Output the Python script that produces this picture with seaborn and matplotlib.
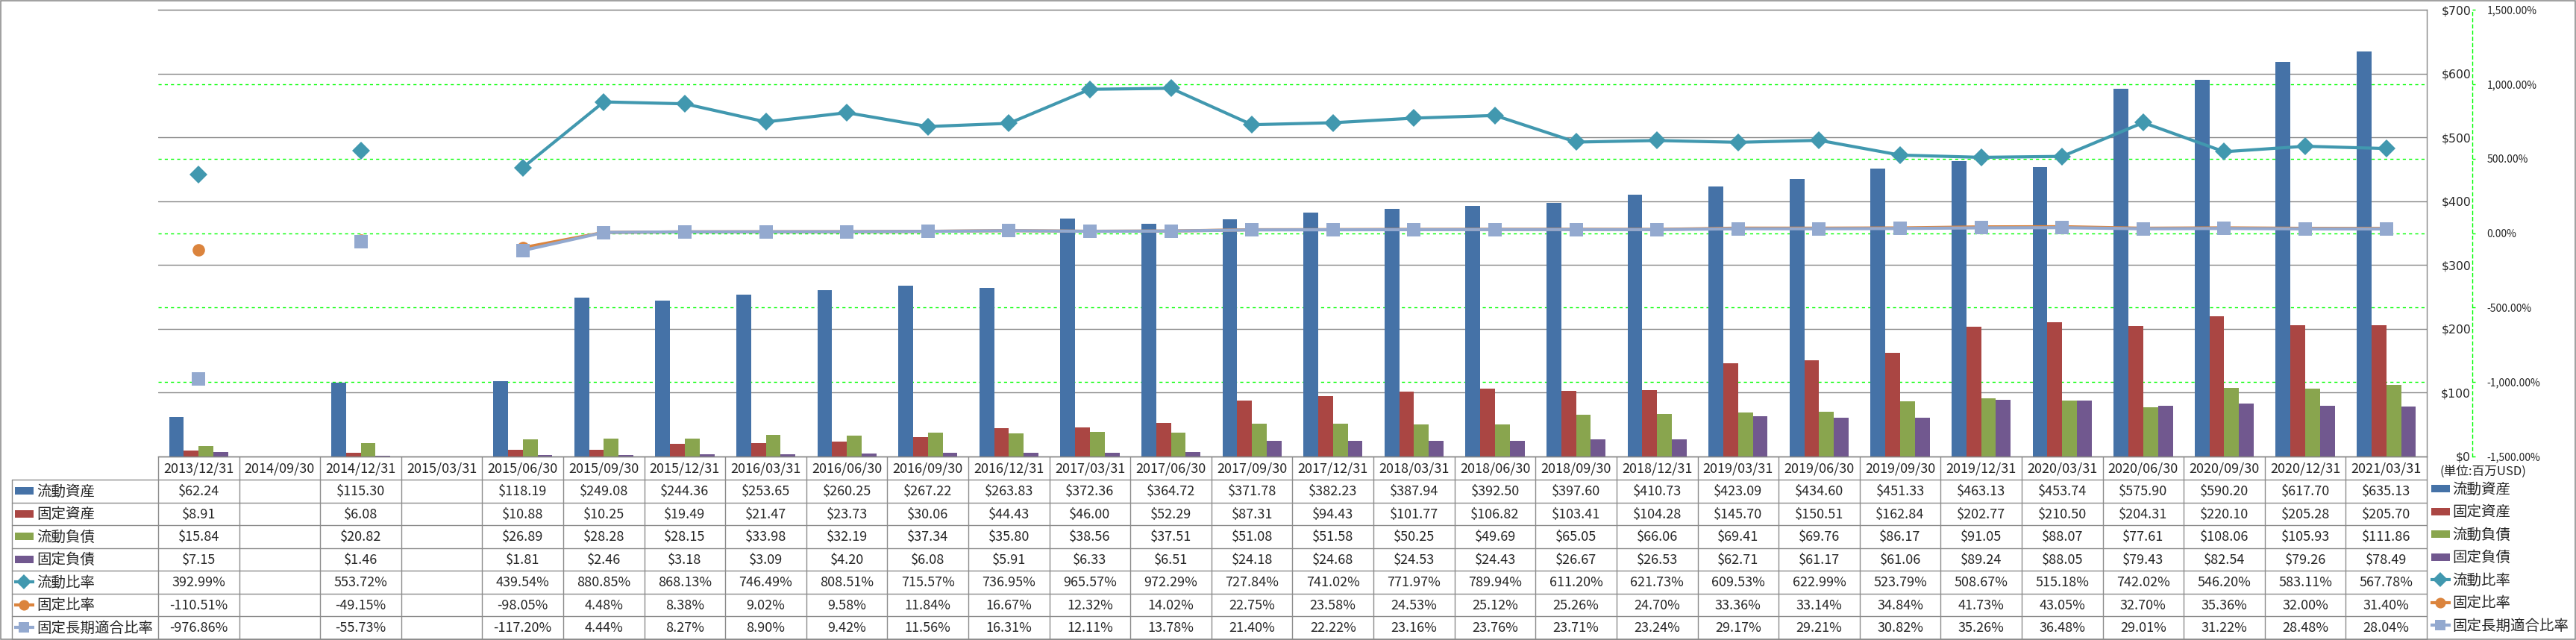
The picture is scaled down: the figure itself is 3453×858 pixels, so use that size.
import numpy as np
import pandas as pd
import matplotlib
matplotlib.use("Agg")
import matplotlib.pyplot as plt
import seaborn as sns
from matplotlib.ticker import FixedLocator
from matplotlib.patches import Rectangle

# ---------------- data ----------------
dates = ["2013/12/31", "2014/09/30", "2014/12/31", "2015/03/31", "2015/06/30", "2015/09/30",
         "2015/12/31", "2016/03/31", "2016/06/30", "2016/09/30", "2016/12/31", "2017/03/31",
         "2017/06/30", "2017/09/30", "2017/12/31", "2018/03/31", "2018/06/30", "2018/09/30",
         "2018/12/31", "2019/03/31", "2019/06/30", "2019/09/30", "2019/12/31", "2020/03/31",
         "2020/06/30", "2020/09/30", "2020/12/31", "2021/03/31"]
nan = np.nan
current_assets = [62.24, nan, 115.30, nan, 118.19, 249.08, 244.36, 253.65, 260.25, 267.22, 263.83,
                  372.36, 364.72, 371.78, 382.23, 387.94, 392.50, 397.60, 410.73, 423.09, 434.60,
                  451.33, 463.13, 453.74, 575.90, 590.20, 617.70, 635.13]
fixed_assets = [8.91, nan, 6.08, nan, 10.88, 10.25, 19.49, 21.47, 23.73, 30.06, 44.43, 46.00, 52.29,
                87.31, 94.43, 101.77, 106.82, 103.41, 104.28, 145.70, 150.51, 162.84, 202.77,
                210.50, 204.31, 220.10, 205.28, 205.70]
current_liab = [15.84, nan, 20.82, nan, 26.89, 28.28, 28.15, 33.98, 32.19, 37.34, 35.80, 38.56, 37.51,
                51.08, 51.58, 50.25, 49.69, 65.05, 66.06, 69.41, 69.76, 86.17, 91.05, 88.07, 77.61,
                108.06, 105.93, 111.86]
fixed_liab = [7.15, nan, 1.46, nan, 1.81, 2.46, 3.18, 3.09, 4.20, 6.08, 5.91, 6.33, 6.51, 24.18,
              24.68, 24.53, 24.43, 26.67, 26.53, 62.71, 61.17, 61.06, 89.24, 88.05, 79.43, 82.54,
              79.26, 78.49]
current_ratio = [392.99, nan, 553.72, nan, 439.54, 880.85, 868.13, 746.49, 808.51, 715.57, 736.95,
                 965.57, 972.29, 727.84, 741.02, 771.97, 789.94, 611.20, 621.73, 609.53, 622.99,
                 523.79, 508.67, 515.18, 742.02, 546.20, 583.11, 567.78]
fixed_ratio = [-110.51, nan, -49.15, nan, -98.05, 4.48, 8.38, 9.02, 9.58, 11.84, 16.67, 12.32, 14.02,
               22.75, 23.58, 24.53, 25.12, 25.26, 24.70, 33.36, 33.14, 34.84, 41.73, 43.05, 32.70,
               35.36, 32.00, 31.40]
fixed_long_ratio = [-976.86, nan, -55.73, nan, -117.20, 4.44, 8.27, 8.90, 9.42, 11.56, 16.31, 12.11,
                    13.78, 21.40, 22.22, 23.16, 23.76, 23.71, 23.24, 29.17, 29.21, 30.82, 35.26,
                    36.48, 29.01, 31.22, 28.48, 28.04]

bar_names = ["流動資産", "固定資産", "流動負債", "固定負債"]
line_names = ["流動比率", "固定比率", "固定長期適合比率"]
money_ticks = [0, 100, 200, 300, 400, 500, 600, 700]
pct_ticks = [-1500, -1000, -500, 0, 500, 1000, 1500]
unit_label = "(単位:百万USD)"

# ---------------- style ----------------
bar_colors = ["#4572A7", "#AA4643", "#89A54E", "#71588F"]
line_colors = ["#4198AF", "#DB843D", "#93A9CF"]
line_markers = ["D", "o", "s"]
line_ms = [12, 12, 12.5]
grid_gray = "#868686"
green = "#00FF00"

W, H, DPI = 3453, 858, 100
sns.set_style("white")
plt.rcParams["font.family"] = ["Noto Sans CJK JP", "DejaVu Sans"]

fig = plt.figure(figsize=(W / DPI, H / DPI), dpi=DPI)

# overlay for table / legend / border (pixel coords)
ov = fig.add_axes([0, 0, 1, 1], zorder=0)
ov.set_xlim(0, W)
ov.set_ylim(H, 0)
ov.axis("off")

L, R, T, B = 212, 3253, 13, 612
ax = fig.add_axes([L / W, (H - B) / H, (R - L) / W, (B - T) / H], zorder=1)

n = len(dates)
bar_series = [current_assets, fixed_assets, current_liab, fixed_liab]
df = pd.DataFrame({
    "date": dates * 4,
    "series": np.repeat(bar_names, n),
    "value": np.concatenate(bar_series),
}).dropna()

sns.barplot(data=df, x="date", y="value", hue="series", order=dates, hue_order=bar_names,
            palette=bar_colors, width=0.73, errorbar=None, saturation=1, linewidth=0,
            legend=False, ax=ax)

ax.set_xlim(-0.5, n - 0.5)
ax.set_ylim(money_ticks[0], money_ticks[-1])
ax.set_xlabel("")
ax.set_ylabel("")

# secondary axis (create before styling the primary one; twinx resets tick sides)
ax2 = ax.twinx()
ax2.set_ylim(pct_ticks[0], pct_ticks[-1])
ax2.set_yticks(pct_ticks)
ax2.set_yticklabels([f"{v:,.2f}%" for v in pct_ticks], fontfamily="DejaVu Sans", fontsize=11.3)
for lab, v in zip(ax2.get_yticklabels(), pct_ticks):
    lab.set_color("#FF0000" if v < 0 else "black")
ax2.tick_params(axis="y", direction="out", length=3, width=1, color=green, pad=11)
for s in ["left", "top", "bottom"]:
    ax2.spines[s].set_visible(False)
ax2.spines["right"].set_position(("outward", 61 * 72 / DPI))
ax2.spines["right"].set_color(green)
ax2.spines["right"].set_linestyle((0, (3, 3)))
ax2.spines["right"].set_linewidth(1.0)
ax2.grid(False)
ax2.set_xticks([])

# primary axis styling
ax.set_xticks([])
ax.set_yticks(money_ticks)
ax.set_yticklabels([f"${v}" for v in money_ticks], fontfamily="DejaVu Sans", fontsize=11.3)
ax.tick_params(axis="y", which="both", left=False, right=False, labelleft=False,
               labelright=True, length=0, pad=42.5)
for lab in ax.get_yticklabels():
    lab.set_horizontalalignment("right")

pct_grid = pct_ticks[1:-1]
span_p = pct_ticks[-1] - pct_ticks[0]
ax.yaxis.set_minor_locator(FixedLocator(
    [(p - pct_ticks[0]) / span_p * money_ticks[-1] for p in pct_grid]))
ax.grid(axis="y", which="major", color=grid_gray, lw=1.0)
ax.grid(axis="y", which="minor", color=green, lw=1.0, ls=(0, (3, 3)))
ax.grid(axis="x", visible=False)
ax.set_axisbelow(True)
ax.spines["left"].set_visible(False)
for s in ["top", "right", "bottom"]:
    ax.spines[s].set_visible(True)
    ax.spines[s].set_color(grid_gray)
    ax.spines[s].set_linewidth(1.0)

x = np.arange(n)
line_series = [current_ratio, fixed_ratio, fixed_long_ratio]
for vals, c, m, ms in zip(line_series, line_colors, line_markers, line_ms):
    ax2.plot(x, vals, color=c, lw=3, marker=m, ms=ms, mfc=c, mec=c, mew=0,
             solid_joinstyle="round", clip_on=False)

# ---------------- table ----------------
tc = "#8C8C8C"
cw = (R - L) / n
row_top = 643
rh = (856.5 - row_top) / 7
tfs = 13
# header
ov.plot([L, R], [B, B], color=tc, lw=1.0)
for k in range(n + 1):
    ov.plot([L + k * cw] * 2, [B, 856.5], color=tc, lw=1.0)
for i, d in enumerate(dates):
    ov.text(L + (i + 0.5) * cw, (B + row_top) / 2 + 1, d, ha="center", va="center", fontsize=tfs)
# row lines
for r in range(8):
    y = row_top + r * rh
    ov.plot([16, R], [y, y], color=tc, lw=1.0)
ov.plot([16, 16], [row_top, 856.5], color=tc, lw=1.0)

all_names = bar_names + line_names
all_series = bar_series + line_series
for r, (name, vals) in enumerate(zip(all_names, all_series)):
    yc = row_top + (r + 0.5) * rh
    is_pct = r >= 4
    for i, v in enumerate(vals):
        if np.isnan(v):
            continue
        s = f"{v:.2f}%" if is_pct else f"${v:.2f}"
        ov.text(L + (i + 0.5) * cw, yc + 1, s, ha="center", va="center", fontsize=tfs)
    # legend keys (left column and right legend)
    for kx0, tx, dy in [(19, 49, 0), (3258, 3287, -3)]:
        yk = yc + dy
        if r < 4:
            ov.add_patch(Rectangle((kx0 + 1, yk - 5), 25, 10, color=bar_colors[r], lw=0))
        else:
            j = r - 4
            ov.plot([kx0, kx0 + 27], [yk, yk], color=line_colors[j], lw=3, solid_capstyle="butt")
            ov.plot([kx0 + 13.5], [yk], marker=line_markers[j], ms=line_ms[j] * 0.85,
                    color=line_colors[j], mew=0)
        ov.text(tx, yk + 1, name, ha="left", va="center", fontsize=14)

ov.text(3328, 632, unit_label, ha="center", va="center", fontsize=12, color="#222222")

# outer border
ov.add_patch(Rectangle((0.75, 0.75), W - 1.5, H - 1.5, fill=False, ec=grid_gray, lw=1.1))

fig.savefig("out.png", dpi=DPI)
